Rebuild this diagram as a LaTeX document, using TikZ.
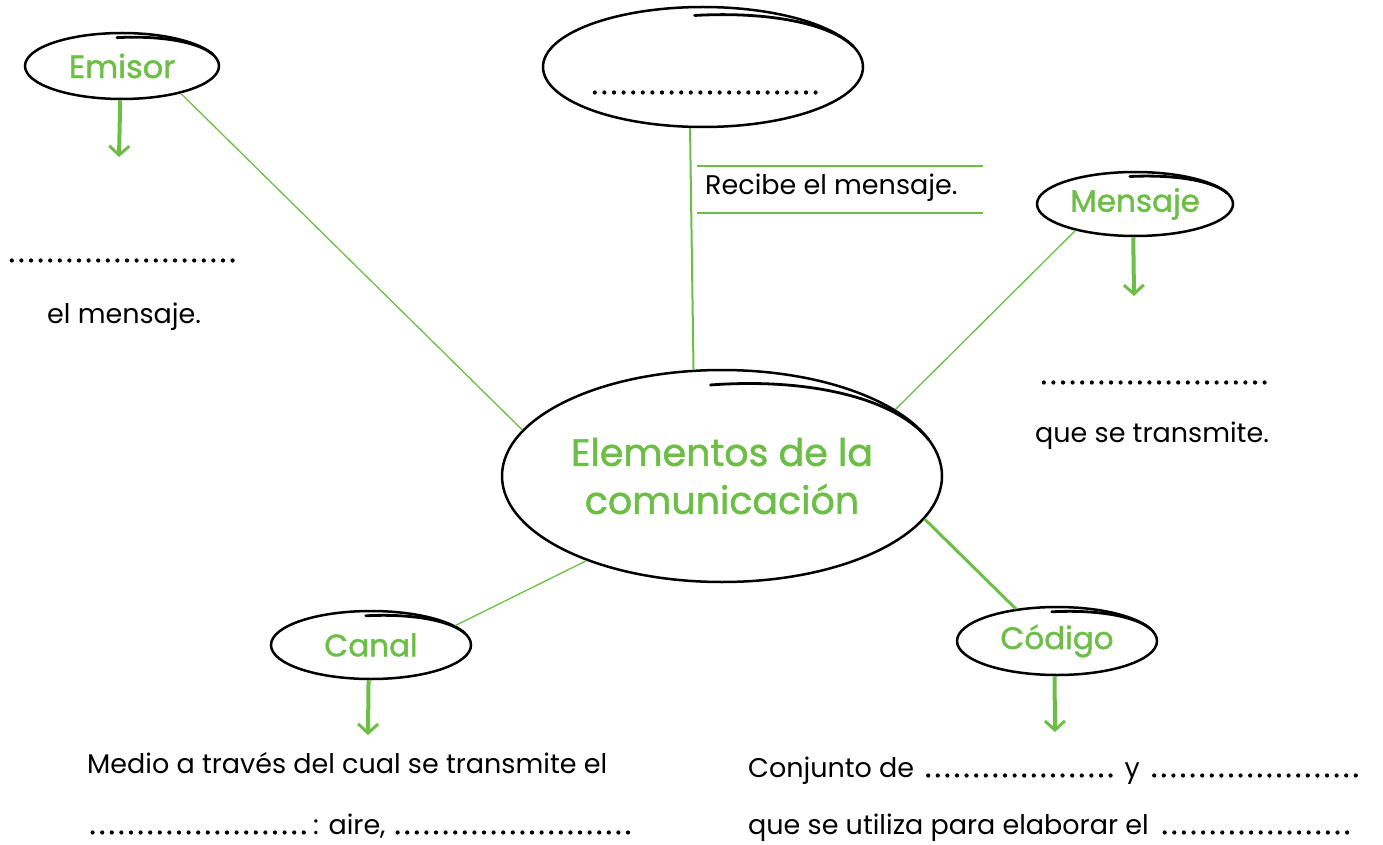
\documentclass[tikz,border=0pt]{standalone}
\usepackage{fontspec}
\setmainfont{Poppins}
\newfontfamily\gfont{Poppins}[FakeBold=1.3]
\newfontfamily\dfont{Poppins}[FakeBold=3]
\usetikzlibrary{arrows.meta,shapes.geometric,calc}
\definecolor{leaf}{RGB}{108,190,70}
\newcommand\dotrun[1]{{\dfont\hbox to #1{\cleaders\hbox to 9.6pt{\hss.\hss}\hfill}}}
\tikzset{
  bubble/.style={ellipse,draw=black,line width=2.5pt,inner sep=0pt,text=leaf},
  btxt/.style={inner sep=0pt,text=black,font=\fontsize{27}{32}\selectfont},
  gline/.style={draw=leaf,line width=1.3pt},
  garrow/.style={draw=leaf,line width=4pt,-{Straight Barb[length=9pt,width=20pt,line width=3pt]}},
}
\newcommand\sketchtop[3]{%
  \draw[line width=2.8pt,line cap=round,shift={(#1.center)}]
    plot[domain=-93:-20,samples=40,smooth]
    ({#2*cos(\x)},{#3*(0.86+0.14*(\x+93)/73)*sin(\x)});
}
\begin{document}
\begin{tikzpicture}[x=1pt,y=-1pt]
\useasboundingbox (0,0) rectangle (1383,845);
% bubbles
\node[bubble,minimum width=194pt,minimum height=66pt,font=\gfont\fontsize{32}{36}\selectfont] (emisor) at (122,66) {Emisor};
\node[bubble,minimum width=320pt,minimum height=120pt] (receptor) at (703,67) {};
\node[bubble,minimum width=196pt,minimum height=64pt,font=\gfont\fontsize{31}{36}\selectfont] (mensaje) at (1135,204) {Mensaje};
\node[bubble,minimum width=440pt,minimum height=212pt,font=\gfont\fontsize{38}{48}\selectfont,align=center] (centro) at (722,476) {Elementos de la\\comunicación};
\node[bubble,minimum width=200pt,minimum height=68pt,font=\gfont\fontsize{31}{36}\selectfont] (canal) at (371,645) {Canal};
\node[bubble,minimum width=200pt,minimum height=68pt,font=\gfont\fontsize{31}{36}\selectfont] (codigo) at (1057,641) {Código};
\sketchtop{emisor}{97}{33}
\sketchtop{receptor}{160}{60}
\sketchtop{mensaje}{98}{32}
\sketchtop{centro}{220}{106}
\sketchtop{canal}{100}{34}
\sketchtop{codigo}{100}{34}
% dotted blank in top bubble
\node[btxt,anchor=base west] (blanktop) at (588,94) {\dotrun{234pt}};
% connectors
\draw[gline] (emisor.-25) -- (centro.167.6);
\draw[gline,line width=2pt] (receptor.-102) -- (centro.105.8);
\draw[gline] (mensaje.-156) -- (centro.21.7);
\draw[gline] (canal.13.4) -- (centro.-148.5);
\draw[gline,line width=3pt] (centro.-12.2) -- (codigo.142.1);
% Recibe box
\node[btxt,anchor=base west] (recibe) at (705,195) {Recibe el mensaje.};
\coordinate (r1) at (697,166); \coordinate (r2) at (983,166);
\coordinate (r3) at (697,213); \coordinate (r4) at (983,213);
\draw[gline,line width=2pt] (r1) -- (r2);
\draw[gline,line width=2pt] (r3) -- (r4);
% arrows
\coordinate (ea) at (119,157);
\coordinate (ma) at (1134,296);
\coordinate (ca) at (368,735);
\coordinate (da) at (1055,732);
\draw[garrow] (emisor.-93) -- (ea);
\draw[garrow] (mensaje.-93) -- (ma);
\draw[garrow] (canal.-94) -- (ca);
\draw[garrow] (codigo.-94) -- (da);
% texts
\node[btxt,anchor=base west] (emdots) at (6,262) {\dotrun{232pt}};
\node[btxt,anchor=base west] (emtxt) at (47,323) {el mensaje.};
\node[btxt,anchor=base west] (mdots) at (1038,384) {\dotrun{232pt}};
\node[btxt,anchor=base west] (mtxt) at (1035,442) {que se transmite.};
\node[btxt,anchor=base west] (canal1) at (87,773) {Medio a través del cual se transmite el};
\node[btxt,anchor=base west] (canal2) at (83,834) {\dotrun{230pt}: aire, \dotrun{240pt}};
\node[btxt,anchor=base west] (cod1) at (748,777) {Conjunto de \dotrun{196pt} y \dotrun{216pt}};
\node[btxt,anchor=base west] (cod2) at (748,834) {que se utiliza para elaborar el \dotrun{200pt}};
\end{tikzpicture}
\end{document}
